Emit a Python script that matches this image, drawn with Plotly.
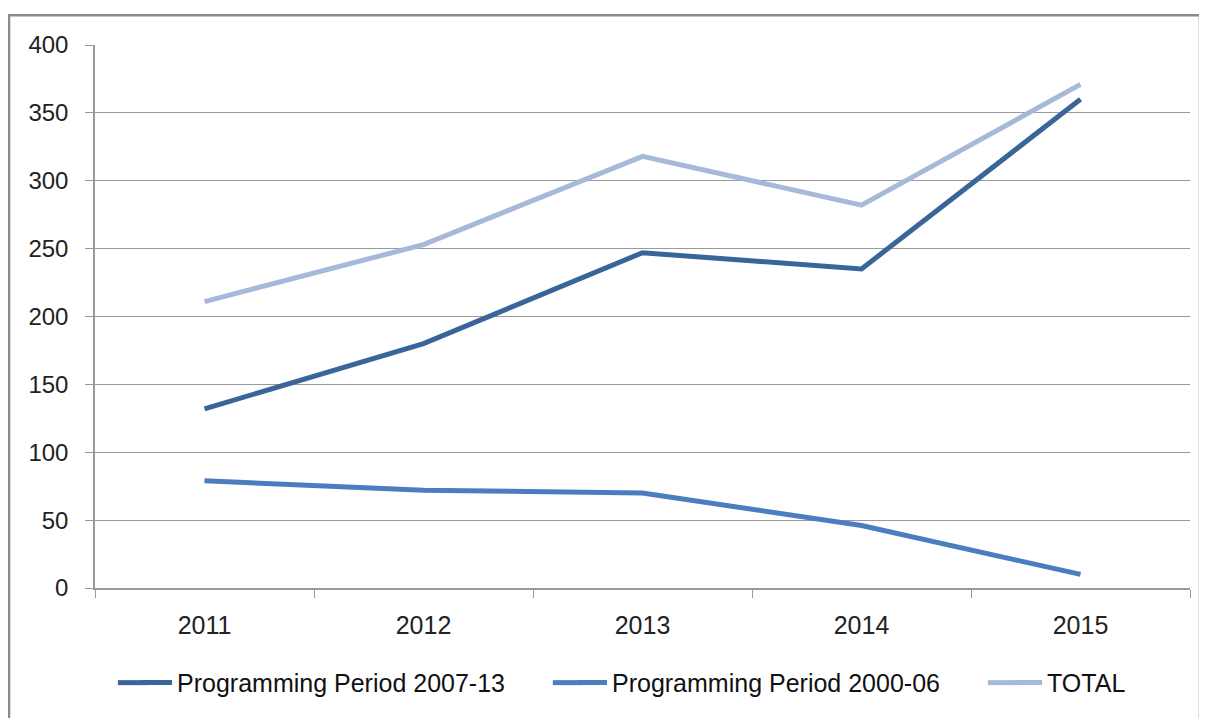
import plotly.graph_objects as go

years = ["2011", "2012", "2013", "2014", "2015"]
pp_2007_13 = [132, 180, 247, 235, 360]
pp_2000_06 = [79, 72, 70, 46, 10]
total = [211, 253, 318, 282, 371]

series = [
    ("Programming Period 2007-13", pp_2007_13, "#3A6598"),
    ("Programming Period 2000-06", pp_2000_06, "#4A7EBF"),
    ("TOTAL", total, "#A7B9D8"),
]
legend_x = [0.0384, 0.4356, 0.8329]
legend_y = -0.1743

fig = go.Figure()
legend_layouts = {}
shapes = []
for i, (name, vals, col) in enumerate(series):
    lg = "legend" if i == 0 else f"legend{i+1}"
    fig.add_trace(go.Scatter(x=years, y=vals, name=name, mode="lines",
                             line=dict(color=col, width=5), legend=lg))
    legend_layouts[lg] = dict(orientation="h", x=legend_x[i], xanchor="left",
                              y=legend_y, yanchor="middle", bgcolor="rgba(0,0,0,0)",
                              font=dict(size=25, color="#111111"))
    # extend legend sample line to the left to mimic the longer swatch
    shapes.append(dict(type="line", xref="paper", yref="paper",
                       x0=legend_x[i] - 0.0175, x1=legend_x[i] + 0.01,
                       y0=legend_y, y1=legend_y,
                       line=dict(color=col, width=5)))

axis_col = "#9a9a9a"
shapes.append(dict(type="rect", xref="paper", yref="paper",
                   x0=-0.0785, x1=1.0091, y0=-0.3, y1=1.055,
                   line=dict(color="#8a8a8a", width=2.5), fillcolor="rgba(0,0,0,0)",
                   layer="below"))

fig.update_layout(
    width=1199, height=710,
    margin=dict(l=87, r=17, t=37, b=128),
    paper_bgcolor="white", plot_bgcolor="white",
    font=dict(family="Liberation Sans", size=24, color="#222222"),
    showlegend=True,
    xaxis=dict(type="category", range=[-0.5, 4.5], showgrid=False,
               showline=True, linecolor=axis_col, linewidth=1.5,
               ticks="outside", tickson="boundaries", ticklen=8, tickcolor=axis_col,
               ticklabelstandoff=14, tickfont=dict(size=25)),
    yaxis=dict(range=[0, 400], dtick=50, showgrid=True, gridcolor=axis_col, gridwidth=1.2,
               zeroline=False, showline=True, linecolor=axis_col, linewidth=1.5,
               ticks="outside", ticklen=8, tickcolor=axis_col,
               ticklabelstandoff=12, tickfont=dict(size=24)),
    shapes=shapes,
    **legend_layouts,
)

fig.write_html("out.html")
